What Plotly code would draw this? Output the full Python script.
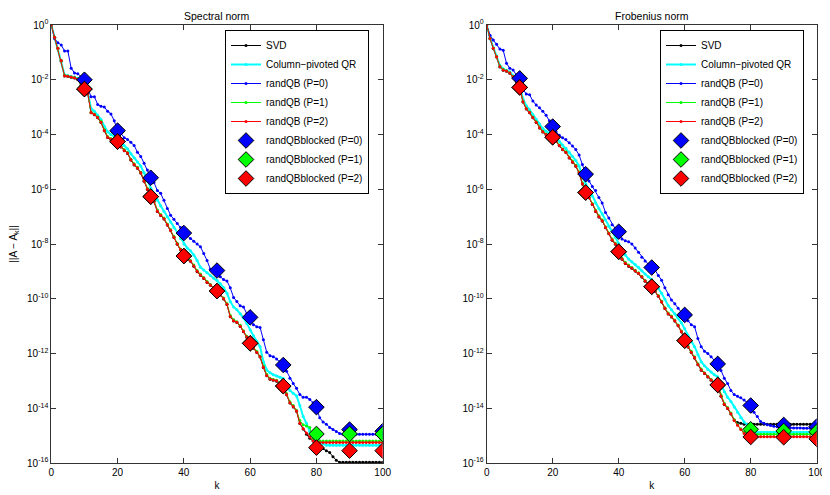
import numpy as np
import plotly.graph_objects as go

k = list(range(101))
k_blocked = [10, 20, 30, 40, 50, 60, 70, 80, 90, 100]
y_tickvals = [1e0, 1e-2, 1e-4, 1e-6, 1e-8, 1e-10, 1e-12, 1e-14, 1e-16]
y_ticktext = ["10<sup>0</sup>", "10<sup>-2</sup>", "10<sup>-4</sup>", "10<sup>-6</sup>", "10<sup>-8</sup>",
              "10<sup>-10</sup>", "10<sup>-12</sup>", "10<sup>-14</sup>", "10<sup>-16</sup>"]
x_tickvals = [0, 20, 40, 60, 80, 100]

series_names = ["SVD", "Column\u2212pivoted QR", "randQB (P=0)", "randQB (P=1)", "randQB (P=2)"]
blocked_names = ["randQBblocked (P=0)", "randQBblocked (P=1)", "randQBblocked (P=2)"]

# ---------------- Spectral norm (log10 of error) ----------------
spec_svd = [0, -0.46, -0.86, -1.32, -1.86, -1.88, -1.91, -1.94, -1.99, -2.21,
            -2.35, -2.51, -3.21, -3.28, -3.39, -3.56, -3.86, -4.11, -4.18, -4.23,
            -4.27, -4.46, -4.59, -4.69, -4.93, -5.11, -5.23, -5.41, -5.71, -6.01,
            -6.28, -6.46, -6.81, -6.96, -7.09, -7.31, -7.51, -7.76, -8.01, -8.21,
            -8.45, -8.56, -8.63, -8.81, -9.01, -9.14, -9.26, -9.41, -9.51, -9.61,
            -9.73, -9.86, -10.01, -10.21, -10.66, -10.81, -10.87, -11.01, -11.21, -11.41,
            -11.64, -11.81, -11.96, -12.13, -12.51, -12.81, -12.94, -12.98, -13.01, -13.11,
            -13.2, -13.51, -13.81, -13.95, -14.11, -14.56, -14.76, -14.95, -15.1, -15.2,
            -15.35, -15.42, -15.47, -15.55, -15.62, -15.77, -15.9, -15.97, -15.97, -15.97,
            -15.97, -15.97, -15.97, -15.97, -15.97, -15.97, -15.97, -15.97, -15.97, -15.97,
            -15.97]
spec_cpqr = [0, -0.45, -0.85, -1.3, -1.82, -1.85, -1.88, -1.9, -1.95, -2.15,
             -2.3, -2.45, -3.05, -3.15, -3.3, -3.45, -3.7, -3.9, -4.0, -4.08,
             -4.15, -4.3, -4.4, -4.52, -4.7, -4.85, -5.0, -5.15, -5.4, -5.7,
             -5.95, -6.15, -6.4, -6.6, -6.8, -7.0, -7.2, -7.4, -7.6, -7.8,
             -8.0, -8.15, -8.25, -8.4, -8.6, -8.85, -8.95, -9.05, -9.15, -9.25,
             -9.32, -9.45, -9.6, -9.8, -10.1, -10.3, -10.4, -10.55, -10.7, -10.9,
             -11.14, -11.35, -11.55, -11.75, -12.3, -12.6, -12.7, -12.78, -12.82, -12.87,
             -12.91, -13.15, -13.35, -13.45, -13.55, -13.9, -14.3, -14.55, -14.85, -14.98,
             -15.04, -15.2, -15.3, -15.35, -15.35, -15.35, -15.35, -15.35, -15.35, -15.35,
             -15.35, -15.35, -15.35, -15.35, -15.35, -15.35, -15.35, -15.35, -15.35, -15.35,
             -15.35]
spec_p0 = [0, -0.5, -0.65, -0.73, -0.95, -0.95, -1.58, -1.75, -1.78, -1.9,
           -2.0, -2.3, -2.62, -2.62, -2.9, -2.97, -3.0, -3.15, -3.25, -3.5,
           -3.86, -3.95, -4.12, -4.18, -4.28, -4.4, -4.65, -4.8, -5.05, -5.3,
           -5.58, -5.75, -6.05, -6.15, -6.4, -6.7, -6.95, -7.1, -7.25, -7.4,
           -7.6, -7.7, -7.8, -7.9, -8.0, -8.1, -8.35, -8.6, -8.92, -8.95,
           -8.97, -9.2, -9.3, -9.35, -9.6, -9.95, -10.1, -10.26, -10.3, -10.55,
           -10.68, -10.95, -11.02, -11.05, -11.5, -11.95, -12.08, -12.12, -12.2, -12.3,
           -12.42, -12.65, -12.9, -13.1, -13.27, -13.5, -13.6, -13.6, -13.68, -13.8,
           -13.98, -14.35, -14.5, -14.58, -14.7, -14.78, -14.85, -14.92, -14.95, -14.95,
           -14.95, -14.95, -14.95, -14.95, -14.95, -14.95, -14.95, -14.95, -14.95, -14.95,
           -14.95]
spec_p1 = [0, -0.45, -0.85, -1.3, -1.84, -1.86, -1.9, -1.92, -1.97, -2.18,
           -2.33, -2.48, -3.18, -3.25, -3.36, -3.52, -3.82, -4.07, -4.15, -4.2,
           -4.25, -4.42, -4.55, -4.66, -4.9, -5.07, -5.2, -5.38, -5.66, -5.97,
           -6.25, -6.42, -6.76, -6.92, -7.05, -7.27, -7.47, -7.72, -7.97, -8.18,
           -8.42, -8.52, -8.6, -8.77, -8.97, -9.1, -9.22, -9.37, -9.48, -9.58,
           -9.7, -9.82, -9.97, -10.17, -10.6, -10.76, -10.84, -10.97, -11.17, -11.37,
           -11.6, -11.77, -11.92, -12.1, -12.46, -12.76, -12.9, -12.95, -12.98, -13.08,
           -13.17, -13.46, -13.76, -13.9, -14.07, -14.45, -14.6, -14.65, -14.7, -15.1,
           -15.2, -15.2, -15.2, -15.2, -15.2, -15.2, -15.2, -15.2, -15.2, -15.2,
           -15.2, -15.2, -15.2, -15.2, -15.2, -15.2, -15.2, -15.2, -15.2, -15.2,
           -15.2]
spec_p2 = [0, -0.45, -0.85, -1.3, -1.85, -1.87, -1.9, -1.93, -1.98, -2.2,
           -2.34, -2.5, -3.2, -3.27, -3.38, -3.55, -3.85, -4.1, -4.17, -4.22,
           -4.26, -4.45, -4.58, -4.68, -4.92, -5.1, -5.22, -5.4, -5.7, -6.0,
           -6.27, -6.45, -6.8, -6.95, -7.08, -7.3, -7.5, -7.75, -8.0, -8.2,
           -8.44, -8.55, -8.62, -8.8, -9.0, -9.13, -9.25, -9.4, -9.5, -9.6,
           -9.72, -9.85, -10.0, -10.2, -10.65, -10.8, -10.86, -11.0, -11.2, -11.4,
           -11.63, -11.8, -11.95, -12.12, -12.5, -12.8, -12.93, -12.97, -13.0, -13.1,
           -13.19, -13.5, -13.8, -13.94, -14.1, -14.55, -14.75, -14.9, -15.05, -15.2,
           -15.25, -15.25, -15.25, -15.25, -15.25, -15.25, -15.25, -15.25, -15.25, -15.25,
           -15.25, -15.25, -15.25, -15.25, -15.25, -15.25, -15.25, -15.25, -15.25, -15.25,
           -15.25]
spec_blk_p0 = [-2.0, -3.86, -5.58, -7.6, -8.97, -10.68, -12.42, -13.96, -14.78, -14.84]
spec_blk_p1 = [-2.34, -4.26, -6.27, -8.44, -9.72, -11.63, -13.19, -14.94, -14.94, -14.94]
spec_blk_p2 = [-2.34, -4.26, -6.27, -8.44, -9.72, -11.63, -13.19, -15.44, -15.55, -15.55]

# ---------------- Frobenius norm (log10 of error) ----------------
frob_svd = [0, -0.5, -0.86, -1.17, -1.53, -1.65, -1.69, -1.76, -1.9, -2.08,
            -2.29, -2.81, -3.07, -3.21, -3.39, -3.56, -3.76, -3.91, -4.01, -4.06,
            -4.11, -4.26, -4.41, -4.56, -4.66, -4.86, -5.01, -5.16, -5.41, -5.81,
            -6.13, -6.31, -6.56, -6.81, -7.01, -7.16, -7.41, -7.63, -7.86, -8.01,
            -8.29, -8.56, -8.71, -8.81, -8.89, -8.99, -9.08, -9.21, -9.36, -9.46,
            -9.57, -9.73, -9.91, -10.12, -10.36, -10.56, -10.67, -10.81, -10.99, -11.21,
            -11.54, -11.76, -11.96, -12.16, -12.41, -12.61, -12.73, -12.86, -12.98, -13.08,
            -13.16, -13.56, -13.86, -14.01, -14.21, -14.43, -14.52, -14.55, -14.58, -14.58,
            -14.58, -14.58, -14.58, -14.58, -14.58, -14.58, -14.58, -14.58, -14.58, -14.58,
            -14.58, -14.58, -14.58, -14.58, -14.58, -14.58, -14.58, -14.58, -14.58, -14.58,
            -14.58]
frob_cpqr = [0, -0.47, -0.82, -1.12, -1.48, -1.6, -1.65, -1.72, -1.85, -2.02,
             -2.2, -2.7, -2.95, -3.1, -3.28, -3.45, -3.62, -3.78, -3.88, -3.95,
             -4.0, -4.12, -4.25, -4.38, -4.5, -4.65, -4.8, -4.95, -5.15, -5.5,
             -5.8, -6.0, -6.25, -6.5, -6.7, -6.9, -7.12, -7.35, -7.55, -7.75,
             -7.98, -8.2, -8.4, -8.55, -8.65, -8.75, -8.85, -8.98, -9.1, -9.2,
             -9.3, -9.45, -9.62, -9.8, -10.02, -10.25, -10.4, -10.55, -10.7, -10.88,
             -11.1, -11.35, -11.55, -11.75, -12.05, -12.3, -12.45, -12.58, -12.68, -12.78,
             -12.85, -13.15, -13.4, -13.6, -13.75, -13.95, -14.15, -14.35, -14.5, -14.6,
             -14.7, -14.8, -14.88, -14.88, -14.88, -14.88, -14.88, -14.88, -14.88, -14.88,
             -14.88, -14.88, -14.88, -14.88, -14.88, -14.88, -14.88, -14.88, -14.88, -14.88,
             -14.88]
frob_p0 = [0, -0.37, -0.55, -0.7, -0.88, -0.92, -1.4, -1.58, -1.64, -1.83,
           -1.95, -2.35, -2.52, -2.55, -2.78, -2.92, -3.02, -3.15, -3.3, -3.5,
           -3.71, -3.9, -4.03, -4.12, -4.18, -4.3, -4.42, -4.55, -4.75, -5.1,
           -5.45, -5.7, -5.9, -6.05, -6.3, -6.5, -6.85, -7.05, -7.3, -7.45,
           -7.55, -7.82, -7.88, -7.92, -8.0, -8.15, -8.3, -8.48, -8.62, -8.75,
           -8.86, -8.95, -9.15, -9.32, -9.6, -9.85, -10.05, -10.18, -10.35, -10.5,
           -10.59, -10.8, -10.95, -11.02, -11.45, -11.75, -11.92, -12.0, -12.12, -12.25,
           -12.38, -12.62, -12.9, -13.1, -13.35, -13.5, -13.56, -13.62, -13.7, -13.8,
           -13.91, -14.15, -14.3, -14.48, -14.55, -14.6, -14.63, -14.66, -14.68, -14.7,
           -14.7, -14.71, -14.71, -14.72, -14.72, -14.72, -14.73, -14.73, -14.73, -14.73,
           -14.73]
frob_p1 = [0, -0.48, -0.84, -1.15, -1.5, -1.63, -1.67, -1.74, -1.88, -2.05,
           -2.27, -2.78, -3.04, -3.18, -3.36, -3.53, -3.73, -3.88, -3.98, -4.03,
           -4.08, -4.23, -4.38, -4.53, -4.63, -4.82, -4.97, -5.12, -5.37, -5.77,
           -6.1, -6.28, -6.52, -6.77, -6.97, -7.12, -7.37, -7.6, -7.82, -7.97,
           -8.25, -8.52, -8.67, -8.77, -8.86, -8.96, -9.05, -9.18, -9.33, -9.43,
           -9.54, -9.7, -9.88, -10.09, -10.33, -10.52, -10.63, -10.78, -10.96, -11.18,
           -11.5, -11.72, -11.92, -12.12, -12.37, -12.57, -12.7, -12.83, -12.95, -13.05,
           -13.13, -13.52, -13.82, -13.97, -14.17, -14.42, -14.6, -14.75, -14.88, -14.93,
           -14.95, -14.95, -14.95, -14.95, -14.95, -14.95, -14.95, -14.95, -14.95, -14.95,
           -14.95, -14.95, -14.95, -14.95, -14.95, -14.95, -14.95, -14.95, -14.95, -14.95,
           -14.95]
frob_p2 = [0, -0.49, -0.85, -1.16, -1.52, -1.64, -1.68, -1.75, -1.89, -2.07,
           -2.28, -2.8, -3.06, -3.2, -3.38, -3.55, -3.75, -3.9, -4.0, -4.05,
           -4.1, -4.25, -4.4, -4.55, -4.65, -4.85, -5.0, -5.15, -5.4, -5.8,
           -6.12, -6.3, -6.55, -6.8, -7.0, -7.15, -7.4, -7.62, -7.85, -8.0,
           -8.28, -8.55, -8.7, -8.8, -8.88, -8.98, -9.07, -9.2, -9.35, -9.45,
           -9.56, -9.72, -9.9, -10.11, -10.35, -10.55, -10.66, -10.8, -10.98, -11.2,
           -11.53, -11.75, -11.95, -12.15, -12.4, -12.6, -12.72, -12.85, -12.97, -13.07,
           -13.15, -13.55, -13.85, -14.0, -14.2, -14.45, -14.62, -14.78, -14.92, -15.0,
           -15.04, -15.04, -15.04, -15.04, -15.04, -15.04, -15.04, -15.04, -15.04, -15.04,
           -15.04, -15.04, -15.04, -15.04, -15.04, -15.04, -15.04, -15.04, -15.04, -15.04,
           -15.04]
frob_blk_p0 = [-1.95, -3.71, -5.45, -7.55, -8.86, -10.59, -12.38, -13.9, -14.61, -14.67]
frob_blk_p1 = [-2.28, -4.1, -6.12, -8.28, -9.56, -11.53, -13.15, -14.77, -14.83, -14.86]
frob_blk_p2 = [-2.28, -4.1, -6.12, -8.28, -9.56, -11.53, -13.15, -15.05, -15.06, -15.12]

line_colors = ["#000000", "#00ffff", "#0000ff", "#00ff00", "#ff0000"]
line_widths = [1, 2, 1, 1, 1]
blocked_colors = ["#0000ff", "#00ff00", "#ff0000"]

FONT = "Liberation Sans, Arial, Helvetica, sans-serif"
fig = go.Figure()


def add_panel(xa, ya, leg, lines, blocked):
    for name, vals, col, w in zip(series_names, lines, line_colors, line_widths):
        fig.add_trace(go.Scatter(
            x=k, y=10.0 ** np.array(vals), mode="lines+markers", name=name,
            line=dict(color=col, width=w), marker=dict(color=col, size=3),
            xaxis=xa, yaxis=ya, legend=leg))
    for name, vals, col in zip(blocked_names, blocked, blocked_colors):
        fig.add_trace(go.Scatter(
            x=k_blocked, y=10.0 ** np.array(vals), mode="markers", name=name,
            marker=dict(symbol="diamond", size=12, color=col, line=dict(color="black", width=1)),
            xaxis=xa, yaxis=ya, legend=leg))


add_panel("x", "y", "legend", [spec_svd, spec_cpqr, spec_p0, spec_p1, spec_p2],
          [spec_blk_p0, spec_blk_p1, spec_blk_p2])
add_panel("x2", "y2", "legend2", [frob_svd, frob_cpqr, frob_p0, frob_p1, frob_p2],
          [frob_blk_p0, frob_blk_p1, frob_blk_p2])

# the page places the figure 8 px in from the window's top-left corner
OFF = 8
W, H = 830 - OFF, 495 - OFF


def px(x):
    return (x - OFF) / W


def py(y):
    return 1 - (y - OFF) / H


ydom = [py(463), py(25)]
axis_common = dict(showgrid=False, zeroline=False, showline=True, linecolor="#333333", linewidth=1,
                   mirror="ticks", ticks="inside", ticklen=5, tickcolor="#333333", automargin=False,
                   tickfont=dict(size=10, color="black", family=FONT))
xcommon = dict(axis_common, range=[0, 100], tickvals=x_tickvals,
               title=dict(text="k", font=dict(size=10, family=FONT), standoff=4))
ycommon = dict(axis_common, type="log", range=[-16, 0], tickvals=y_tickvals, ticktext=y_ticktext,
               domain=ydom)

legend_common = dict(bgcolor="white", bordercolor="black", borderwidth=1,
                     font=dict(size=10, family=FONT, color="black"), yanchor="top", xanchor="left",
                     itemwidth=30, tracegroupgap=0)

fig.update_layout(
    template="none",
    width=W, height=H, margin=dict(l=0, r=0, t=0, b=0, pad=0, autoexpand=False),
    paper_bgcolor="white", plot_bgcolor="white",
    font=dict(family=FONT, size=10, color="black"),
    xaxis=dict(xcommon, domain=[px(51.3), px(382.7)], anchor="y"),
    yaxis=dict(ycommon, anchor="x",
               title=dict(text="||A \u2212 A<sub>k</sub>||", font=dict(size=10, family=FONT), standoff=18)),
    xaxis2=dict(xcommon, domain=[px(486.7), px(816.7)], anchor="y2"),
    yaxis2=dict(ycommon, anchor="x2"),
    legend=dict(legend_common, x=px(225), y=py(30)),
    legend2=dict(legend_common, x=px(660), y=py(30)),
    annotations=[
        dict(text="Spectral norm", x=px(217), y=py(9), xref="paper", yref="paper",
             xanchor="center", yanchor="top", borderpad=0, showarrow=False,
             font=dict(size=10.5, family=FONT)),
        dict(text="Frobenius norm", x=px(652), y=py(9), xref="paper", yref="paper",
             xanchor="center", yanchor="top", borderpad=0, showarrow=False,
             font=dict(size=10.5, family=FONT)),
    ],
)

fig.write_html("out.html")
